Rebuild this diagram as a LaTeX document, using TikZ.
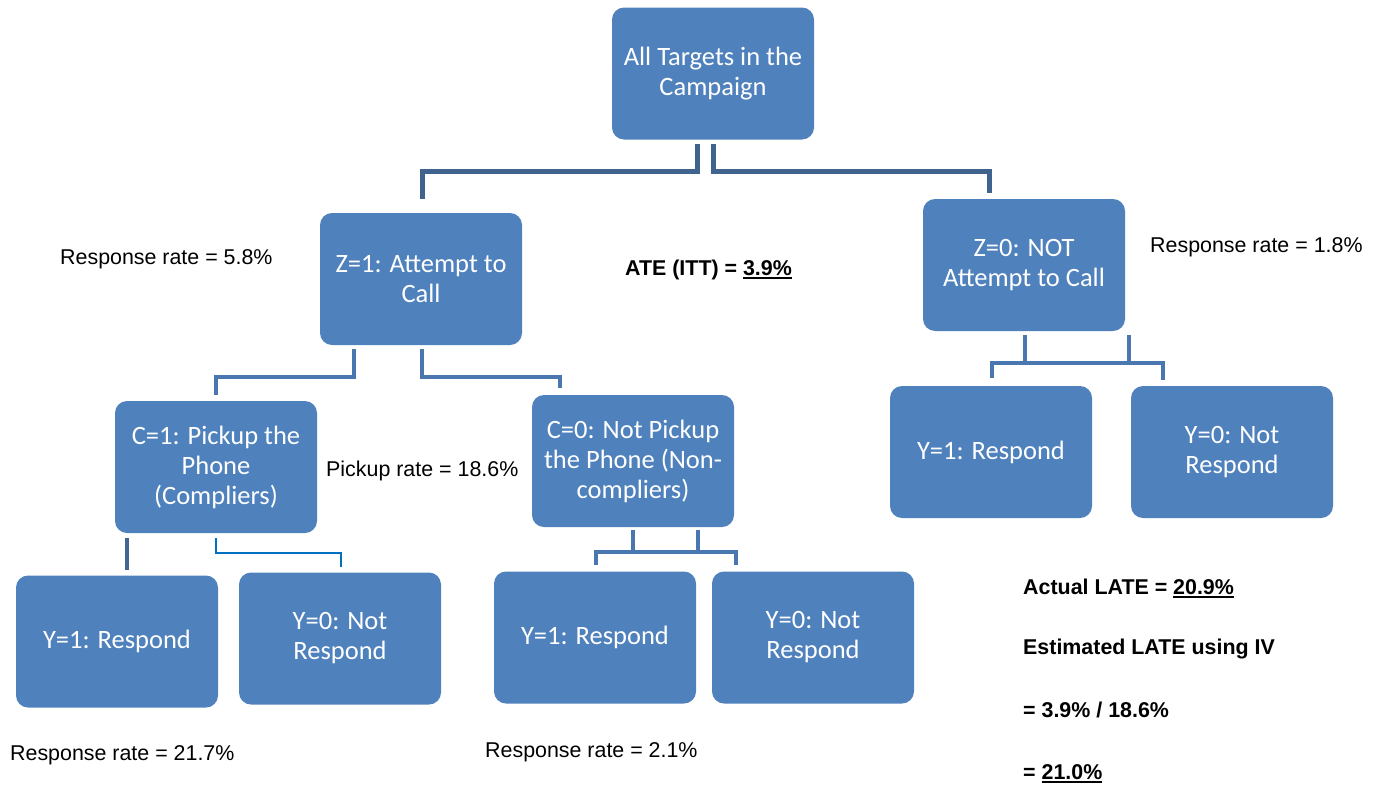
\documentclass[tikz,border=0pt]{standalone}
\usepackage{fontspec}
\setmainfont{Liberation Sans}
\newfontfamily\boxfont{Carlito}
\usetikzlibrary{calc}
\definecolor{boxblue}{HTML}{4F81BD}
\definecolor{linedark}{HTML}{41648F}
\definecolor{linemid}{HTML}{4A77B0}
\definecolor{linebright}{HTML}{0070C0}
\newcommand\ulx[1]{\setbox0\hbox{#1}\rlap{\rule[-3.5pt]{\wd0}{1.8pt}}\box0}
\tikzset{
  box/.style={fill=boxblue, rounded corners=12pt, minimum width=202pt, minimum height=132pt,
    align=center, text=white, inner sep=0pt, font=\boxfont\fontsize{26.5}{30}\selectfont},
  lbl/.style={anchor=base west, inner sep=0pt, font=\fontsize{21.4}{25}\selectfont},
  blbl/.style={lbl, font=\fontsize{21.4}{25}\selectfont\bfseries},
  conn/.style={draw=linemid, line width=4.5pt, line cap=butt, line join=miter},
  conntop/.style={draw=linedark, line width=5pt, line cap=butt, line join=miter},
  connthin/.style={draw=linebright, line width=2.2pt, line cap=butt, line join=miter}
}
\begin{document}
\begin{tikzpicture}[x=1pt, y=-1pt]
\useasboundingbox (0,0) rectangle (1381,787);
% boxes
\node[box] (top) at (713,73.5) {All Targets in the\\Campaign};
\node[box] (z1) at (421,279) {Z=1: Attempt to\\Call};
\node[box] (z0) at (1024,265) {Z=0: NOT\\Attempt to Call};
\node[box] (c1) at (216,467) {C=1: Pickup the\\Phone\\(Compliers)};
\node[box] (c0) at (633,461) {C=0: Not Pickup\\the Phone (Non-\\compliers)};
\node[box] (ry1) at (991,452) {Y=1: Respond};
\node[box] (ry0) at (1232,452) {Y=0: Not\\Respond};
\node[box] (ly1) at (117,641.5) {Y=1: Respond};
\node[box] (ly0) at (340,638.5) {Y=0: Not\\Respond};
\node[box] (my1) at (595,637.5) {Y=1: Respond};
\node[box] (my0) at (813,637.5) {Y=0: Not\\Respond};
% connectors
\draw[conntop] ([xshift=-16pt,yshift=-4pt]top.south) -- ++(0,28) -| ([xshift=1pt,yshift=14pt]z1.north);
\draw[conntop] ([yshift=-4pt]top.south) -- ++(0,28) -| ([xshift=-35pt,yshift=6pt]z0.north);
\draw[conn] ([xshift=-67pt,yshift=-4pt]z1.south) -- ++(0,28) -| ([yshift=6pt]c1.north);
\draw[conn] ([xshift=1pt,yshift=-4pt]z1.south) -- ++(0,28) -| ([xshift=-73pt,yshift=7pt]c0.north);
\draw[conn, draw=linedark!90!linemid, line width=4pt] ([xshift=-89pt,yshift=-5pt]c1.south) -- ([xshift=10pt,yshift=5pt]ly1.north);
\draw[connthin] ([yshift=-5pt]c1.south) -- ++(0,15) -| ([xshift=1pt,yshift=5pt]ly0.north);
% C=0 bracket
\draw[conn] ([xshift=1pt,yshift=6pt]my1.north) |- ($(c0.south)+(0,25)$) -| ([xshift=-77pt,yshift=6pt]my0.north);
\draw[conn] ([yshift=-3pt]c0.south) -- ++(0,23);
\draw[conn] ([xshift=65pt,yshift=-3pt]c0.south) -- ++(0,23);
% Z=0 bracket
\draw[conn] ([xshift=1pt,yshift=8pt]ry1.north) |- ($(z0.south)+(0,32)$) -| ([xshift=-69pt,yshift=6pt]ry0.north);
\draw[conn] ([xshift=1pt,yshift=-4pt]z0.south) -- ++(0,29);
\draw[conn] ([xshift=105pt,yshift=-4pt]z0.south) -- ++(0,29);
% labels
\node[lbl] (r58) at (60,264) {Response rate = 5.8\%};
\node[blbl] (ate) at (625,275) {ATE (ITT) = \ulx{3.9\%}};
\node[lbl] (r18) at (1150,252) {Response rate = 1.8\%};
\node[lbl] (pick) at (326,476) {Pickup rate = 18.6\%};
\node[lbl] (r217) at (10,760) {Response rate = 21.7\%};
\node[lbl] (r21) at (485,757) {Response rate = 2.1\%};
\node[blbl] (late) at (1023,594) {Actual LATE = \ulx{20.9\%}};
\node[blbl] (est) at (1023,654) {Estimated LATE using IV};
\node[blbl] (eq1) at (1023,717) {= 3.9\% / 18.6\%};
\node[blbl] (eq2) at (1023,779) {= \ulx{21.0\%}};
\end{tikzpicture}
\end{document}
